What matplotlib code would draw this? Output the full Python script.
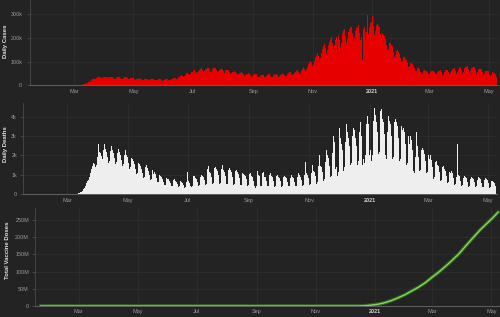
import pandas as pd
import matplotlib
matplotlib.use('Agg')
import matplotlib.pyplot as plt
import matplotlib.patheffects as pe

# daily series start on this date, one value per day (rows are Wed..Tue weeks)
start_date = '2020-01-22'

cases_k = [
    0, 0, 0, 0, 0, 0, 0,
    0, 0, 0, 0, 0, 0, 0,
    0, 0, 0, 0, 0, 0, 0,
    0, 0, 0, 0, 0, 0, 0,
    0, 0, 0, 0, 0, 0, 0,
    0, 0, 0, 0.1, 0.1, 0.2, 0.3,
    0.4, 0.6, 0.9, 1.2, 1.5, 2.1, 2.8,
    3.6, 5.0, 6.8, 8.5, 10.5, 12.8, 15.5,
    18.5, 21.0, 24.5, 26.0, 25.0, 28.5, 31.5,
    33.5, 35.0, 36.5, 34.0, 30.5, 32.0, 35.5,
    36.0, 35.5, 36.5, 33.0, 29.0, 30.5, 34.5,
    35.5, 36.0, 35.0, 31.5, 27.5, 28.5, 33.5,
    34.5, 35.5, 36.0, 32.0, 27.0, 28.0, 32.5,
    33.5, 35.0, 34.0, 30.0, 25.5, 26.5, 30.0,
    31.0, 30.5, 29.5, 27.0, 24.0, 24.5, 27.5,
    28.5, 29.0, 28.0, 25.5, 22.5, 23.0, 26.0,
    27.0, 27.5, 26.5, 24.5, 21.5, 22.5, 25.0,
    26.0, 27.0, 25.5, 23.0, 20.5, 21.0, 24.0,
    25.0, 26.0, 25.0, 22.5, 20.0, 21.0, 23.5,
    25.0, 26.5, 27.0, 24.0, 21.0, 22.5, 26.0,
    28.0, 30.5, 32.0, 29.0, 26.0, 28.5, 33.0,
    36.0, 39.5, 42.0, 38.5, 34.0, 37.5, 43.0,
    47.0, 50.5, 53.5, 49.0, 43.5, 47.0, 54.0,
    57.5, 61.0, 63.5, 57.0, 50.5, 55.0, 62.0,
    65.0, 68.5, 71.5, 64.0, 56.0, 60.5, 67.0,
    70.0, 72.5, 74.5, 67.0, 58.0, 62.0, 68.5,
    71.0, 73.5, 72.0, 64.5, 56.0, 59.0, 66.0,
    68.0, 70.5, 69.0, 60.5, 52.0, 55.0, 62.5,
    63.0, 65.5, 64.0, 56.0, 47.5, 50.0, 57.0,
    58.0, 59.5, 58.0, 51.0, 43.0, 45.5, 51.5,
    53.0, 54.5, 53.0, 47.0, 40.0, 42.0, 47.0,
    48.5, 50.0, 49.0, 43.5, 37.0, 39.0, 44.0,
    45.5, 47.0, 46.0, 41.0, 35.0, 36.5, 41.5,
    43.0, 45.0, 44.5, 40.0, 34.0, 35.5, 40.5,
    43.5, 46.0, 45.5, 41.0, 35.5, 37.0, 42.5,
    45.0, 47.5, 47.0, 42.5, 36.5, 38.5, 44.0,
    47.0, 49.5, 49.5, 44.5, 38.5, 41.0, 47.0,
    51.0, 54.5, 55.0, 49.0, 42.0, 45.5, 52.0,
    58.0, 62.0, 63.5, 56.0, 48.5, 53.0, 61.5,
    69.0, 75.0, 79.0, 70.0, 60.5, 67.0, 78.0,
    89.0, 97.0, 104.0, 92.5, 80.0, 89.0, 104.0,
    118.0, 128.0, 137.0, 122.0, 105.0, 117.0, 136.0,
    152.0, 165.0, 176.0, 156.0, 134.0, 148.0, 170.0,
    182.0, 194.0, 202.0, 180.0, 155.0, 168.0, 190.0,
    205.0, 150.0, 214.0, 190.0, 160.0, 178.0, 208.0,
    222.0, 232.0, 238.0, 210.0, 180.0, 195.0, 226.0,
    236.0, 244.0, 248.0, 220.0, 187.0, 200.0, 230.0,
    240.0, 245.0, 255.0, 222.0, 190.0, 205.0, 105.0,
    238.0, 248.0, 190.0, 226.0, 297.0, 215.0, 246.0,
    262.0, 268.0, 292.0, 250.0, 212.0, 228.0, 256.0,
    258.0, 252.0, 248.0, 218.0, 190.0, 200.0, 222.0,
    214.0, 208.0, 196.0, 172.0, 148.0, 152.0, 178.0,
    178.0, 170.0, 164.0, 142.0, 120.0, 126.0, 146.0,
    148.0, 140.0, 134.0, 116.0, 97.0, 103.0, 118.0,
    118.0, 112.0, 106.0, 92.0, 77.0, 80.0, 92.0,
    94.0, 88.0, 82.0, 71.0, 60.0, 62.0, 72.0,
    72.0, 68.0, 66.0, 58.0, 49.0, 51.0, 60.0,
    64.0, 62.0, 62.0, 55.0, 46.0, 48.0, 57.0,
    62.0, 61.0, 61.0, 54.0, 44.0, 47.0, 56.0,
    61.0, 61.0, 63.0, 55.0, 44.0, 48.0, 58.0,
    63.0, 64.0, 66.0, 57.0, 45.0, 50.0, 61.0,
    67.0, 69.0, 71.0, 61.0, 48.0, 54.0, 66.0,
    72.0, 74.0, 76.0, 64.0, 50.0, 58.0, 71.0,
    76.0, 78.0, 80.0, 67.0, 52.0, 60.0, 73.0,
    75.0, 76.0, 77.0, 64.0, 49.0, 57.0, 69.0,
    68.0, 69.0, 68.0, 57.0, 44.0, 51.0, 62.0,
    60.0, 61.0, 59.0, 49.0, 38.0, 44.0, 54.0,
    51.0, 50.0, 47.0, 36.0,
]

deaths = [
    0, 0, 0, 0, 0, 0, 0,
    0, 0, 0, 0, 0, 0, 0,
    0, 0, 0, 0, 0, 0, 0,
    0, 0, 0, 0, 0, 0, 0,
    0, 0, 0, 0, 0, 0, 0,
    0, 0, 0, 0, 0, 1, 1,
    2, 3, 5, 8, 12, 18, 26,
    38, 55, 78, 105, 140, 190, 260,
    340, 440, 560, 680, 760, 900, 1100,
    1300, 1450, 1600, 1550, 1400, 1500, 1900,
    2600, 2200, 2150, 1950, 1700, 1800, 2300,
    2600, 2350, 2200, 1900, 1600, 1700, 2250,
    2500, 2300, 2150, 1850, 1550, 1650, 2150,
    2350, 2200, 2050, 1750, 1450, 1550, 2050,
    2300, 2050, 1900, 1600, 1300, 1400, 1850,
    1800, 1700, 1550, 1300, 1050, 1100, 1600,
    1550, 1450, 1300, 1100, 850, 900, 1400,
    1500, 1350, 1200, 1000, 750, 800, 1250,
    1050, 1150, 1050, 850, 620, 650, 1000,
    950, 900, 800, 650, 480, 500, 850,
    800, 800, 700, 580, 420, 450, 750,
    800, 700, 650, 520, 380, 420, 700,
    700, 650, 600, 480, 350, 380, 650,
    1150, 700, 600, 450, 380, 420, 950,
    950, 850, 800, 650, 450, 500, 900,
    1000, 950, 900, 750, 500, 550, 1300,
    1450, 1150, 1100, 900, 550, 600, 1350,
    1400, 1300, 1200, 1000, 550, 600, 1300,
    1500, 1250, 1150, 950, 550, 550, 1250,
    1350, 1250, 1150, 900, 500, 550, 1200,
    1250, 1150, 1050, 850, 480, 500, 1100,
    1050, 1000, 950, 800, 450, 480, 1050,
    1100, 950, 900, 700, 420, 300, 450,
    1200, 1000, 950, 750, 430, 450, 1100,
    1150, 900, 900, 700, 420, 450, 1000,
    1100, 950, 900, 700, 400, 420, 950,
    1000, 900, 850, 680, 400, 420, 900,
    950, 900, 850, 650, 420, 450, 850,
    1000, 900, 850, 650, 420, 450, 900,
    1100, 1000, 900, 750, 450, 500, 1000,
    1650, 1100, 1000, 850, 480, 550, 1100,
    1500, 1200, 1150, 950, 550, 650, 1450,
    2050, 1450, 1400, 1150, 700, 800, 1650,
    2300, 2000, 1850, 1450, 900, 950, 2150,
    3000, 2700, 1300, 1400, 950, 1150, 2600,
    3400, 2900, 2600, 2300, 1200, 1400, 2700,
    3600, 3200, 2900, 2500, 1500, 1600, 3000,
    3400, 3300, 2900, 2500, 1500, 1700, 3200,
    3700, 3000, 1500, 1800, 1600, 2000, 3600,
    4050, 3600, 2000, 2300, 1700, 2000, 3800,
    4450, 4100, 3700, 3200, 2100, 2200, 4300,
    4400, 3900, 3700, 3100, 2000, 1800, 3200,
    4050, 3800, 3600, 3000, 1800, 1900, 3700,
    3900, 3700, 3500, 2900, 1700, 1800, 3500,
    3300, 3400, 3200, 2600, 1500, 1600, 3000,
    2600, 3000, 2800, 2300, 1200, 1100, 1900,
    3200, 2500, 2300, 1900, 1200, 1250, 2300,
    2400, 2300, 2100, 1700, 1100, 1150, 2000,
    1800, 2000, 1750, 1400, 800, 900, 1650,
    1700, 1500, 1450, 1150, 700, 750, 1400,
    1450, 1300, 1200, 950, 600, 650, 1150,
    1100, 1200, 1100, 850, 500, 550, 900,
    2600, 1000, 950, 700, 450, 500, 850,
    950, 900, 850, 650, 400, 450, 800,
    900, 850, 800, 650, 380, 420, 750,
    900, 850, 800, 600, 380, 400, 750,
    850, 800, 750, 600, 350, 380, 700,
    700, 650, 600, 450,
]

vax_dates = ['2020-01-22', '2020-12-14', '2020-12-21', '2020-12-28',
             '2021-01-04', '2021-01-11', '2021-01-18', '2021-01-25',
             '2021-02-01', '2021-02-08', '2021-02-15', '2021-02-22',
             '2021-03-01', '2021-03-08', '2021-03-15', '2021-03-22',
             '2021-03-29', '2021-04-05', '2021-04-12', '2021-04-19',
             '2021-04-26', '2021-05-03', '2021-05-08']
vax_doses_m = [0, 0, 0.6, 2.5, 5.0, 9.5, 16, 24, 33, 44, 55, 68, 84,
               99, 116, 134, 153, 176, 198, 220, 239, 258, 273]

tick_dates = ['2020-03-01', '2020-05-01', '2020-07-01', '2020-09-01',
              '2020-11-01', '2021-01-01', '2021-03-01', '2021-05-01']
tick_labels = ['Mar', 'May', 'Jul', 'Sep', 'Nov', '2021', 'Mar', 'May']

BG = '#232323'
plt.rcParams['font.family'] = ['Liberation Sans', 'DejaVu Sans']

fig = plt.figure(figsize=(5, 3.17), dpi=100, facecolor=BG)
days = pd.date_range(start_date, periods=len(cases_k))
xlim = (pd.Timestamp('2020-01-16'), pd.Timestamp('2021-05-10'))


def style(ax, yticks, ylabels, ypad):
    '''Dark theme axis with sparse date ticks'''
    ax.set_facecolor(BG)
    ax.set_xlim(xlim)
    ax.set_xticks(pd.to_datetime(tick_dates))
    ax.set_xticklabels(tick_labels)
    ax.set_yticks(yticks)
    ax.set_yticklabels(ylabels)
    ax.tick_params(axis='x', colors='#9a9a9a', labelsize=4.0, length=0, pad=2.5)
    ax.tick_params(axis='y', colors='#9a9a9a', labelsize=3.9, length=2,
                   width=0.5, pad=ypad)
    ax.tick_params(axis='y', color='#555555')
    for lab in ax.get_xticklabels():
        if lab.get_text() == '2021':
            lab.set_fontweight('bold')
            lab.set_color('#d0d0d0')
    ax.grid(color='#303030', lw=0.5)
    ax.set_axisbelow(True)
    for side in ['top', 'right']:
        ax.spines[side].set_visible(False)
    ax.spines['left'].set_color('#4a4a4a')
    ax.spines['left'].set_linewidth(0.6)
    ax.spines['bottom'].set_color('#6a6a6a')
    ax.spines['bottom'].set_linewidth(0.6)


ax1 = fig.add_axes([0.06, 0.731, 0.936, 0.269])
ax1.bar(days, cases_k, width=1.0, color='#e60000', linewidth=0)
ax1.set_ylim(0, 360)
style(ax1, [0, 100, 200, 300], ['0', '100k', '200k', '300k'], 3.5)

ax2 = fig.add_axes([0.046, 0.387, 0.948, 0.288])
ax2.bar(days, deaths, width=1.0, color='#eeeeee', linewidth=0)
ax2.set_ylim(0, 4700)
style(ax2, [0, 1000, 2000, 3000, 4000], ['0', '1k', '2k', '3k', '4k'], 2.3)

ax3 = fig.add_axes([0.07, 0.0347, 0.93, 0.309])
ax3.plot(pd.to_datetime(vax_dates), vax_doses_m, color='#8ad45e', lw=1.0,
         path_effects=[pe.Stroke(linewidth=2.6, foreground='#2c6a1c'),
                       pe.Normal()])
ax3.set_ylim(0, 285)
style(ax3, [0, 50, 100, 150, 200, 250],
      ['0', '50M', '100M', '150M', '200M', '250M'], 2.3)

label_kw = dict(rotation=90, ha='center', va='center', color='#e0e0e0',
                fontsize=4.3, fontweight='bold')
fig.text(5.5 / 500, 1 - 41 / 317, 'Daily Cases', **label_kw)
fig.text(5.5 / 500, 1 - 144 / 317, 'Daily Deaths', **label_kw)
fig.text(8 / 500, 1 - 250 / 317, 'Total Vaccine Doses', **label_kw)

fig.savefig('out.png', dpi=100, facecolor=BG)
